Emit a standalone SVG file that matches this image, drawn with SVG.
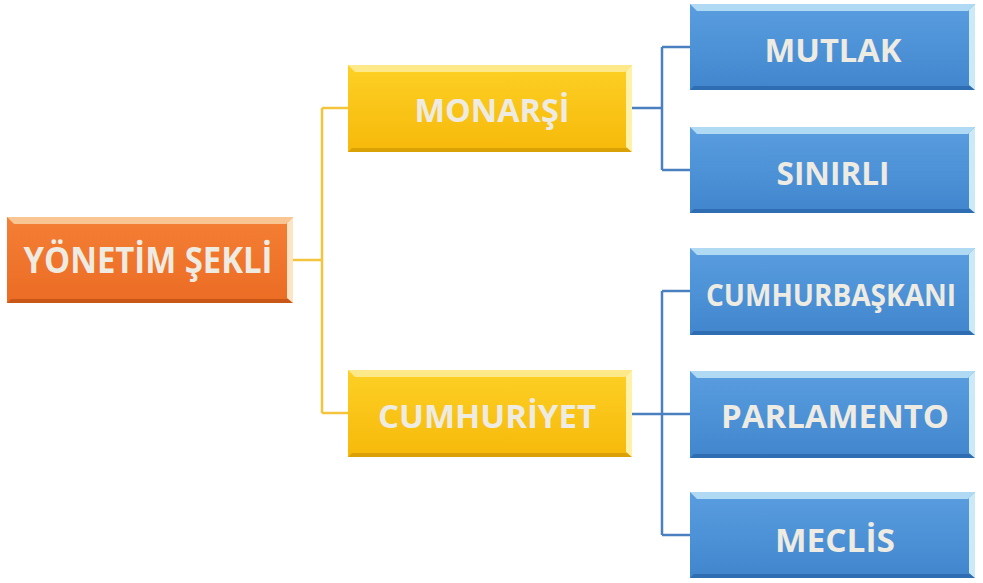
<svg xmlns="http://www.w3.org/2000/svg" width="983" height="583" viewBox="0 0 983 583">
<defs>
<linearGradient id="gBlue" x1="0" y1="0" x2="0" y2="1"><stop offset="0" stop-color="#5a9ee0"/><stop offset="1" stop-color="#4186cd"/></linearGradient>
<linearGradient id="gYel" x1="0" y1="0" x2="0" y2="1"><stop offset="0" stop-color="#fdd025"/><stop offset="1" stop-color="#f6b90a"/></linearGradient>
<linearGradient id="gOr" x1="0" y1="0" x2="0" y2="1"><stop offset="0" stop-color="#f47f35"/><stop offset="1" stop-color="#ec6c24"/></linearGradient>
</defs>
<style>
.txt{font-family:"Open Sans","DejaVu Sans",sans-serif;font-weight:700;fill:#eeebe2;text-anchor:middle}
.cy{fill:none;stroke:#f4c53c;stroke-width:2.5}
.cb{fill:none;stroke:#4a80c0;stroke-width:2.5}
.blue .m{fill:url(#gBlue)} .blue .t{fill:#b0daf4} .blue .r{fill:#cbe9f6} .blue .b{fill:#2f6db2}
.yel .m{fill:url(#gYel)} .yel .t{fill:#fde98a} .yel .r{fill:#fff1a8} .yel .b{fill:#d9a106}
.org .m{fill:url(#gOr)} .org .t{fill:#f9c593} .org .r{fill:#fde4c4} .org .b{fill:#c95718}
</style>
<rect width="983" height="583" fill="#ffffff"/>
<g id="connectors">
<path class="cy" d="M293 260 H322 M322 108 V413 M322 108 H348 M322 413 H348"/>
<path class="cb" d="M632 108 H662 M662 47 V170 M662 47 H690 M662 170 H690"/>
<path class="cb" d="M632 414 H690 M662 291 V535 M662 291 H690 M662 535 H690"/>
</g>
<g id="yonetim" class="org">
<rect class="m" x="7" y="217" width="286" height="86"/>
<polygon class="t" points="7,217 293,217 286,224 14,224"/>
<polygon class="b" points="7,303 293,303 289,299 11,299"/>
<polygon class="r" points="293,217 293,303 287,298 287,223"/>
<text class="txt" x="148" y="273" font-size="36" textLength="249" lengthAdjust="spacingAndGlyphs">YÖNETİM ŞEKLİ</text>
</g>
<g id="monarsi" class="yel">
<rect class="m" x="348" y="65" width="284" height="87"/>
<polygon class="t" points="348,65 632,65 625,72 355,72"/>
<polygon class="b" points="348,152 632,152 628,148 352,148"/>
<polygon class="r" points="632,65 632,152 626,147 626,71"/>
<text class="txt" x="492" y="122" font-size="32" textLength="155" lengthAdjust="spacingAndGlyphs">MONARŞİ</text>
</g>
<g id="cumhuriyet" class="yel">
<rect class="m" x="348" y="370" width="284" height="87"/>
<polygon class="t" points="348,370 632,370 625,377 355,377"/>
<polygon class="b" points="348,457 632,457 628,453 352,453"/>
<polygon class="r" points="632,370 632,457 626,452 626,376"/>
<text class="txt" x="487" y="428" font-size="32" textLength="218" lengthAdjust="spacingAndGlyphs">CUMHURİYET</text>
</g>
<g id="mutlak" class="blue">
<rect class="m" x="690" y="4" width="285" height="86"/>
<polygon class="t" points="690,4 975,4 968,11 697,11"/>
<polygon class="b" points="690,90 975,90 971,86 694,86"/>
<polygon class="r" points="975,4 975,90 969,85 969,10"/>
<text class="txt" x="833" y="62" font-size="32" textLength="137" lengthAdjust="spacingAndGlyphs">MUTLAK</text>
</g>
<g id="sinirli" class="blue">
<rect class="m" x="690" y="127" width="285" height="86"/>
<polygon class="t" points="690,127 975,127 968,134 697,134"/>
<polygon class="b" points="690,213 975,213 971,209 694,209"/>
<polygon class="r" points="975,127 975,213 969,208 969,133"/>
<text class="txt" x="833" y="185" font-size="32" textLength="113" lengthAdjust="spacingAndGlyphs">SINIRLI</text>
</g>
<g id="cumhurbaskani" class="blue">
<rect class="m" x="690" y="248" width="285" height="87"/>
<polygon class="t" points="690,248 975,248 968,255 697,255"/>
<polygon class="b" points="690,335 975,335 971,331 694,331"/>
<polygon class="r" points="975,248 975,335 969,330 969,254"/>
<text class="txt" x="831" y="306" font-size="31" textLength="250" lengthAdjust="spacingAndGlyphs">CUMHURBAŞKANI</text>
</g>
<g id="parlamento" class="blue">
<rect class="m" x="690" y="371" width="285" height="87"/>
<polygon class="t" points="690,371 975,371 968,378 697,378"/>
<polygon class="b" points="690,458 975,458 971,454 694,454"/>
<polygon class="r" points="975,371 975,458 969,453 969,377"/>
<text class="txt" x="835" y="428" font-size="32" textLength="228" lengthAdjust="spacingAndGlyphs">PARLAMENTO</text>
</g>
<g id="meclis" class="blue">
<rect class="m" x="690" y="492" width="285" height="86"/>
<polygon class="t" points="690,492 975,492 968,499 697,499"/>
<polygon class="b" points="690,578 975,578 971,574 694,574"/>
<polygon class="r" points="975,492 975,578 969,573 969,498"/>
<text class="txt" x="835" y="552" font-size="32" textLength="120" lengthAdjust="spacingAndGlyphs">MECLİS</text>
</g>
</svg>
